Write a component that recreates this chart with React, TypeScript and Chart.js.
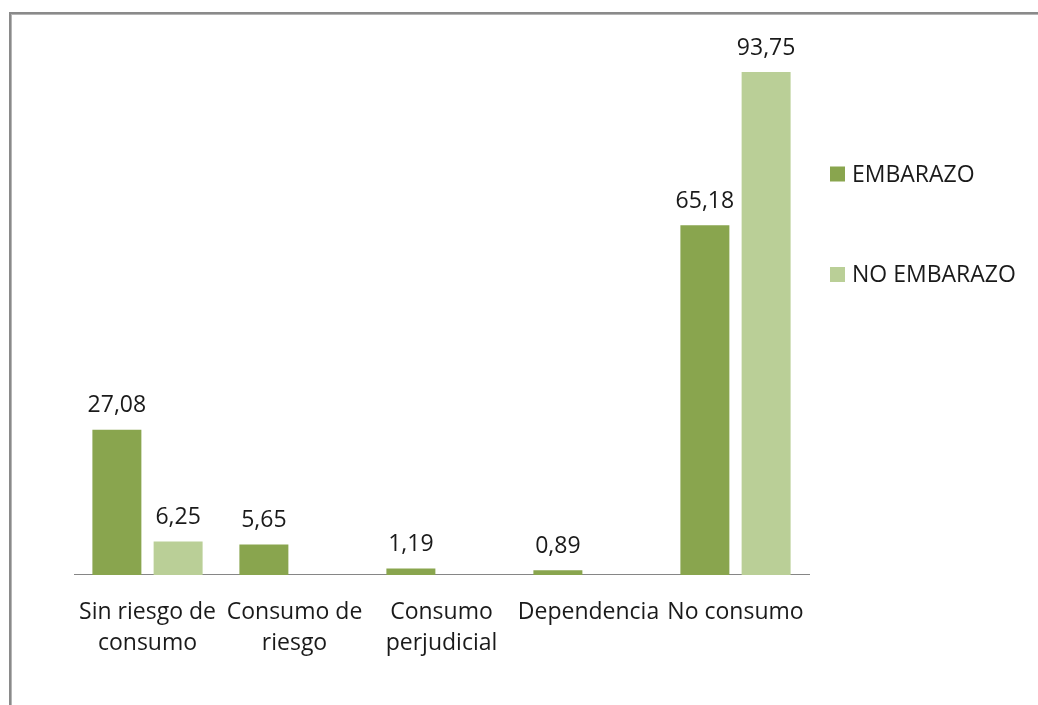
import React, { useEffect, useRef } from "react";
import { Chart, registerables } from "chart.js";

Chart.register(...registerables);

const categories: string[][] = [
  ["Sin riesgo de", "consumo"],
  ["Consumo de", "riesgo"],
  ["Consumo", "perjudicial"],
  ["Dependencia"],
  ["No consumo"],
];
const seriesNames = ["EMBARAZO", "NO EMBARAZO"];
const embarazo: (number | null)[] = [27.08, 5.65, 1.19, 0.89, 65.18];
const noEmbarazo: (number | null)[] = [6.25, null, null, null, 93.75];
const colors = ["#89a54e", "#bacf97"];

const FONT = "'Open Sans', sans-serif";
const TEXT = "#1a1a1a";
const SIZE = 23;

const fmt = (v: number) => v.toFixed(2).replace(".", ",");

const frame = {
  id: "frame",
  beforeDraw(chart: any) {
    const ctx = chart.ctx;
    ctx.save();
    ctx.fillStyle = "#ffffff";
    ctx.fillRect(0, 0, chart.width, chart.height);
    ctx.fillStyle = "#8a8a8a";
    ctx.fillRect(9, 12, chart.width, 2);
    ctx.fillRect(9, 12, 2, chart.height);
    ctx.fillStyle = "#b5b5b5";
    ctx.fillRect(11, 14, chart.width, 1);
    ctx.fillRect(11, 14, 1, chart.height);
    ctx.restore();
  },
};

const valueLabels = {
  id: "valueLabels",
  afterDatasetsDraw(chart: any) {
    const ctx = chart.ctx;
    ctx.save();
    ctx.font = `${SIZE}px ${FONT}`;
    ctx.fillStyle = TEXT;
    ctx.textAlign = "center";
    ctx.textBaseline = "middle";
    chart.data.datasets.forEach((ds: any, i: number) => {
      const meta = chart.getDatasetMeta(i);
      meta.data.forEach((bar: any, j: number) => {
        const v = ds.data[j];
        if (v === null || v === undefined) return;
        ctx.fillText(fmt(v), bar.x, bar.y - 24);
      });
    });
    ctx.restore();
  },
};

const sideLegend = {
  id: "sideLegend",
  afterDraw(chart: any) {
    const ctx = chart.ctx;
    const area = chart.chartArea;
    ctx.save();
    ctx.font = `${SIZE}px ${FONT}`;
    ctx.textBaseline = "middle";
    ctx.textAlign = "left";
    const ys = [174, 274.5];
    chart.data.datasets.forEach((ds: any, i: number) => {
      const x = area.right + 21;
      const y = ys[i];
      ctx.fillStyle = ds.backgroundColor;
      ctx.fillRect(x, y - 7.5, 15, 15);
      ctx.fillStyle = TEXT;
      ctx.fillText(ds.label, x + 22, y + 1);
    });
    ctx.restore();
  },
};

export default function App() {
  const ref = useRef<HTMLCanvasElement>(null);
  useEffect(() => {
    if (!ref.current) return;
    const chart = new Chart(ref.current, {
      type: "bar",
      data: {
        labels: categories,
        datasets: [
          { label: seriesNames[0], data: embarazo, backgroundColor: colors[0] },
          { label: seriesNames[1], data: noEmbarazo, backgroundColor: colors[1] },
        ],
      },
      options: {
        animation: false,
        responsive: false,
        maintainAspectRatio: false,
        layout: { padding: { left: 74, right: 229, top: 38.5, bottom: 24 } },
        datasets: {
          bar: { categoryPercentage: 0.833, barPercentage: 0.8 },
        },
        plugins: {
          legend: { display: false },
          tooltip: { enabled: false },
        },
        scales: {
          x: {
            grid: { display: false, drawTicks: false },
            border: { display: true, color: "#868686", width: 1 },
            ticks: {
              color: TEXT,
              font: { family: FONT, size: SIZE, lineHeight: 1.35 },
              padding: 22,
              maxRotation: 0,
              autoSkip: false,
            },
          },
          y: {
            display: false,
            min: 0,
            max: 100,
          },
        },
      },
      plugins: [frame, valueLabels, sideLegend],
    });
    return () => chart.destroy();
  }, []);
  return (
    <canvas
      ref={ref}
      width={1038}
      height={705}
      style={{ position: "fixed", left: 0, top: 0, width: 1038, height: 705 }}
    />
  );
}
